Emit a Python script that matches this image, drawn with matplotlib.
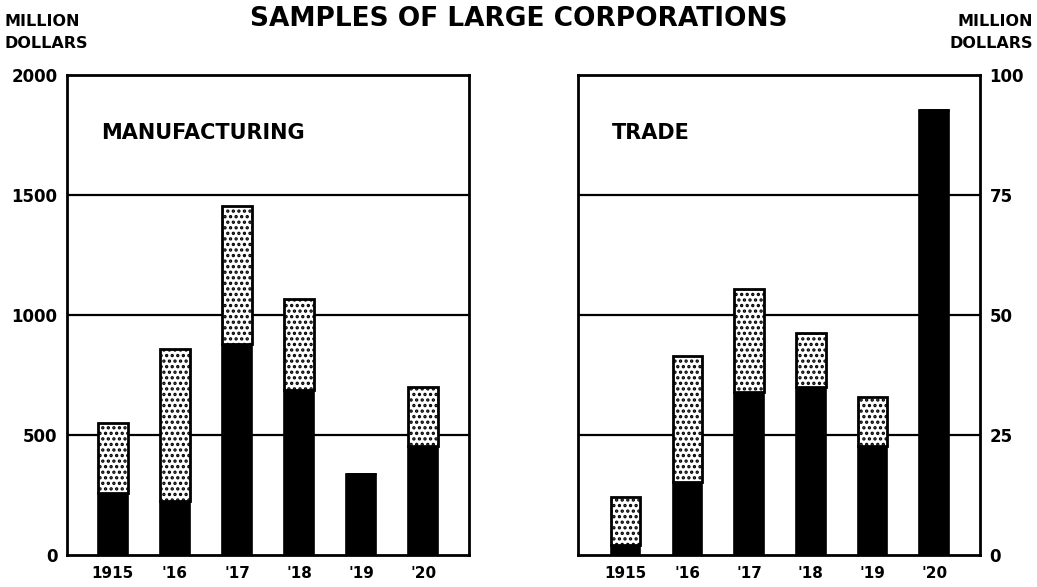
import matplotlib
matplotlib.use("Agg")
import matplotlib.pyplot as plt
import numpy as np

years = ["1915", "'16", "'17", "'18", "'19", "'20"]
# Manufacturing (million dollars)
mfg_black = [260, 225, 880, 688, 338, 455]
mfg_total = [552, 858, 1456, 1068, 338, 702]
# Trade (million dollars)
trade_black = [2, 15.3, 34, 35, 22.8, 92.7]
trade_total = [12, 41.5, 55.5, 46.2, 33, 92.7]

left_ticks = [0, 500, 1000, 1500, 2000]
right_ticks = [0, 25, 50, 75, 100]

plt.rcParams['hatch.linewidth'] = 1.6
plt.rcParams['font.family'] = ['DejaVu Sans']

fig = plt.figure(figsize=(10.37, 5.87), dpi=100)
fig.patch.set_facecolor('white')

def panel(rect, black, total, ymax, ticks, label, side, xlim):
    ax = fig.add_axes(rect)
    x = np.arange(len(years))
    black = np.array(black, dtype=float)
    total = np.array(total, dtype=float)
    for t in ticks[1:-1]:
        ax.axhline(t, color='black', lw=1.6, zorder=1)
    ax.bar(x, black, width=0.48, color='black', edgecolor='black', lw=1.2, zorder=3)
    top = total - black
    ax.bar(x, top, bottom=black, width=0.48, color='white', edgecolor='black',
           hatch='...', lw=2.0, zorder=3)
    ax.set_xlim(*xlim)
    ax.set_ylim(0, ymax)
    ax.set_xticks(x)
    ax.set_xticklabels(years, fontsize=11, fontweight='bold')
    ax.set_yticks(ticks)
    ax.set_yticklabels([str(t) for t in ticks], fontsize=12, fontweight='bold')
    ax.tick_params(axis='x', length=0, pad=8)
    ax.tick_params(axis='y', length=0, pad=7)
    if side == 'right':
        ax.yaxis.tick_right()
    for s in ax.spines.values():
        s.set_linewidth(2)
    ax.text(0.085, 0.88, label, transform=ax.transAxes, fontsize=15,
            fontweight='bold', ha='left', va='center')
    return ax

panel([0.0646, 0.0545, 0.3877, 0.8177], mfg_black, mfg_total, 2000, left_ticks,
      'MANUFACTURING', 'left', (-0.74, 5.74))
panel([0.5569, 0.0545, 0.388, 0.8177], trade_black, trade_total, 100, right_ticks,
      'TRADE', 'right', (-0.78, 5.74))

fig.text(0.5, 0.968, 'SAMPLES OF LARGE CORPORATIONS', ha='center', va='center',
         fontsize=19, fontweight='bold')
fig.text(0.004, 0.944, 'MILLION\nDOLLARS', ha='left', va='center', fontsize=11.5,
         fontweight='bold', linespacing=1.6)
fig.text(0.996, 0.944, 'MILLION\nDOLLARS', ha='right', va='center', fontsize=11.5,
         fontweight='bold', linespacing=1.6, multialignment='right')

fig.savefig('out.png', dpi=100, facecolor='white')
